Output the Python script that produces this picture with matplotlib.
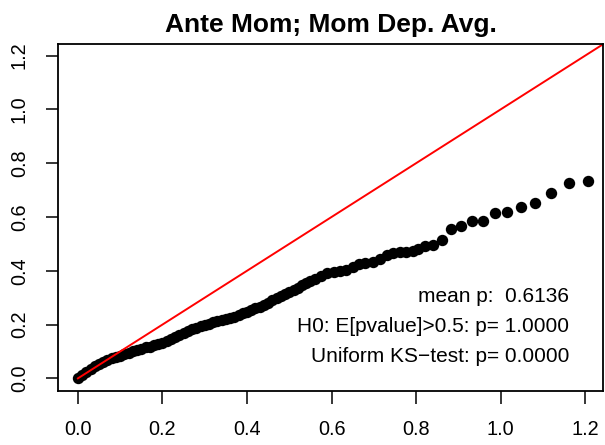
import matplotlib
matplotlib.use("Agg")
import matplotlib.pyplot as plt

plt.rcParams['font.family'] = ['Liberation Sans', 'DejaVu Sans']

# sorted p-value quantiles
x_vals = [0.000, 0.010, 0.020, 0.030, 0.040, 0.050, 0.060, 0.070, 0.080, 0.090,
          0.100, 0.110, 0.120, 0.130, 0.140, 0.150, 0.160, 0.170, 0.180, 0.190,
          0.200, 0.210, 0.220, 0.230, 0.240, 0.250, 0.260, 0.270, 0.280, 0.290,
          0.300, 0.310, 0.320, 0.330, 0.340, 0.350, 0.360, 0.370, 0.380, 0.390,
          0.400, 0.410, 0.420, 0.430, 0.440, 0.450, 0.460, 0.470, 0.480, 0.490,
          0.500, 0.510, 0.520, 0.530, 0.540, 0.550, 0.560, 0.575, 0.590, 0.605,
          0.620, 0.635, 0.650, 0.665, 0.680, 0.698, 0.715, 0.730, 0.745, 0.761,
          0.776, 0.792, 0.805, 0.820, 0.839, 0.862, 0.883, 0.906, 0.931, 0.957,
          0.987, 1.015, 1.048, 1.082, 1.120, 1.162, 1.207]
y_vals = [0.000, 0.012, 0.025, 0.036, 0.045, 0.052, 0.062, 0.068, 0.075, 0.079,
          0.085, 0.090, 0.095, 0.100, 0.106, 0.110, 0.115, 0.118, 0.123, 0.128,
          0.133, 0.140, 0.148, 0.153, 0.160, 0.168, 0.176, 0.183, 0.188, 0.193,
          0.200, 0.204, 0.209, 0.213, 0.216, 0.220, 0.225, 0.230, 0.236, 0.242,
          0.248, 0.254, 0.260, 0.267, 0.274, 0.281, 0.290, 0.298, 0.306, 0.313,
          0.320, 0.328, 0.337, 0.346, 0.354, 0.362, 0.370, 0.382, 0.390, 0.394,
          0.398, 0.404, 0.413, 0.425, 0.430, 0.433, 0.445, 0.458, 0.466, 0.471,
          0.471, 0.472, 0.480, 0.492, 0.497, 0.514, 0.555, 0.566, 0.586, 0.586,
          0.613, 0.617, 0.636, 0.651, 0.690, 0.727, 0.735]

ticks = [0.0, 0.2, 0.4, 0.6, 0.8, 1.0, 1.2]
tick_labels = ['0.0', '0.2', '0.4', '0.6', '0.8', '1.0', '1.2']
stats_text = ['mean p:  0.6136',
              'H0: E[pvalue]>0.5: p= 1.0000',
              'Uniform KS\u2212test: p= 0.0000']

fig = plt.figure(figsize=(6.05, 4.45), dpi=100)
ax = fig.add_axes([0.0959, 0.1213, 0.9008, 0.7798])

ax.plot(x_vals, y_vals, 'o', color='black', markersize=8.2, markeredgewidth=0)
ax.plot([0, 1.4], [0, 1.4], color='red', linewidth=1.4)

ax.set_xlim(-0.047, 1.242)
ax.set_ylim(-0.047, 1.243)
ax.set_xticks(ticks)
ax.set_xticklabels(tick_labels)
ax.set_yticks(ticks)
ax.set_yticklabels(tick_labels, rotation=90, va='center')
ax.tick_params(direction='out', length=9, width=1.1, labelsize=14.3, pad=12)
for s in ax.spines.values():
    s.set_linewidth(1.3)

ax.set_title('Ante Mom; Mom Dep. Avg.', fontsize=19, fontweight='bold', pad=9)

text_y = [0.272, 0.186, 0.099]
for t, ty in zip(stats_text, text_y):
    ax.text(0.9376, ty, t, transform=ax.transAxes,
            ha='right', va='center', fontsize=15)

fig.savefig('out.png', dpi=100)
